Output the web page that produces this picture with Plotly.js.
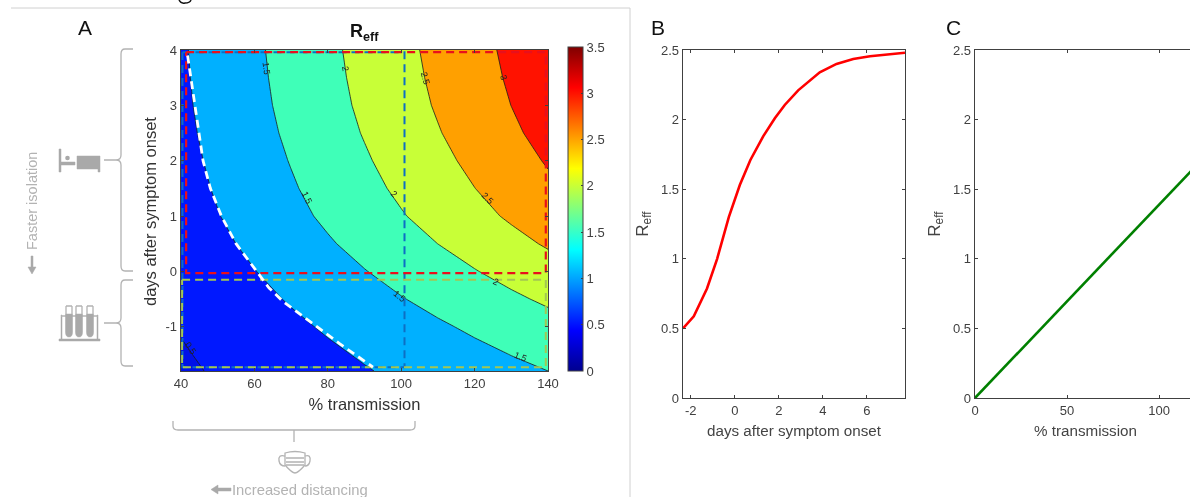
<!DOCTYPE html>
<html><head><meta charset="utf-8">
<script src="https://cdn.plot.ly/plotly-3.0.1.min.js"></script>
<style>html,body{margin:0;padding:0;width:1190px;height:497px;overflow:hidden;background:#fff}
#chart{filter:blur(.35px)}</style>
</head><body><div id="chart"></div>
<script>
const transmission = [40,50,60,70,80,90,100,110,120,130,140];
const daysAfterOnset = [-1.8,-1.5,-1.2,-1,-0.5,0,0.5,1,1.5,2,2.5,3,3.5,4];
const reffGrid = [
 [.432,.54,.648,.756,.864,.972,1.08,1.188,1.296,1.404,1.5],
 [.464,.58,.696,.812,.928,1.044,1.16,1.276,1.392,1.508,1.624],
 [.5,.625,.75,.875,1.0,1.125,1.25,1.375,1.5,1.625,1.75],
 [.524,.655,.786,.917,1.048,1.179,1.31,1.441,1.572,1.703,1.834],
 [.592,.74,.888,1.036,1.184,1.332,1.48,1.628,1.776,1.924,2.072],
 [.66,.825,.99,1.155,1.32,1.485,1.65,1.815,1.98,2.145,2.31],
 [.728,.91,1.092,1.274,1.456,1.638,1.82,2.002,2.184,2.366,2.548],
 [.788,.985,1.182,1.379,1.576,1.773,1.97,2.167,2.364,2.561,2.758],
 [.832,1.04,1.248,1.456,1.664,1.872,2.08,2.288,2.496,2.704,2.912],
 [.868,1.085,1.302,1.519,1.736,1.953,2.17,2.387,2.604,2.821,3.038],
 [.9,1.125,1.35,1.575,1.8,2.025,2.25,2.475,2.7,2.925,3.15],
 [.924,1.155,1.386,1.617,1.848,2.079,2.31,2.541,2.772,3.003,3.234],
 [.94,1.175,1.41,1.645,1.88,2.115,2.35,2.585,2.82,3.055,3.29],
 [.952,1.19,1.428,1.666,1.904,2.142,2.38,2.618,2.856,3.094,3.332]
];
const whiteX = [41.8,43.8,46,48,51,55,60.6,64,67.9,77,83.3,92.3];
const whiteY = [3.9,3,2,1.5,1,.5,0,-.3,-.55,-1,-1.31,-1.73];
const redX = [41.4,139.4,139.4,41.4,41.4];
const redY = [3.96,3.96,-.03,-.03,3.96];
const greenX = [40.3,139.4,139.4,40.3,40.3];
const greenY = [-.15,-.15,-1.73,-1.73,-.15];
const blueX = [40.4,100.9,100.9,40.4,40.4];
const blueY = [3.96,3.96,-1.73,-1.73,3.96];
const labelText = ['1.5','2','2.5','3','1.5','2','2.5','1.5','2','1.5','0.5'];
const labelX = [63.2,84.7,106.5,128,74.3,98,123.4,99.4,125.8,132.6,42.5];
const labelY = [3.67,3.67,3.49,3.5,1.32,1.39,1.32,-.45,-.2,-1.55,-1.39];
const labelAngle = [82,80,75,72,65,45,45,40,25,22,55];
// ---- Panel B data
const bDays = [-2.35,-1.86,-1.26,-.8,-.27,.23,.71,1.29,1.82,2.27,2.88,3.86,4.62,5.38,6.14,7.73];
const bReff = [.5,.587,.787,1.0,1.30,1.53,1.71,1.88,2.01,2.105,2.21,2.34,2.40,2.435,2.455,2.48];
// ---- Panel C data
const cTrans = [0,50,100,120];
const cReff = [0,.695,1.39,1.668];
// ---- Ticks and colours
const aXTicks = [40,60,80,100,120,140];
const aYTicks = [-1,0,1,2,3,4];
const bXTicks = [-2,0,2,4,6];
const cXTicks = [0,50,100];
const reffTicks = [0,.5,1,1.5,2,2.5];
const bandColors = ['#0010e8','#0010e8','#0018ff','#00b0ff','#3fffb8','#c8ff37','#ffa000','#ff1200'];
const jet = [[0,'#00008f'],[.125,'#0000ff'],[.375,'#00ffff'],[.625,'#ffff00'],[.875,'#ff0000'],[1,'#800000']];
const colorbarTicks = [0,.5,1,1.5,2,2.5,3,3.5];

const W = 1250, H = 497;
const FONT = 'Liberation Sans, Arial, sans-serif';
const INK = '#404040', GREY = '#b3b3b3', FRAME = '#404040';
const fx = p => p / W, fy = p => 1 - p / H;
const P = s => s.replace(/(-?\d+\.?\d*) (-?\d+\.?\d*)/g, (m, a, b) => fx(+a) + ' ' + fy(+b));
const axisBase = {showline:true, mirror:'ticks', linecolor:FRAME, linewidth:1.3, ticks:'inside', ticklen:3, tickcolor:FRAME, tickwidth:1,
  showgrid:false, zeroline:false, tickfont:{family:FONT,size:13,color:INK}, layer:'above traces'};
const ticked = vals => ({tickmode:'array',tickvals:vals,ticktext:vals.map(String)});
const dashTrace = (x,y,color,width) => ({type:'scatter',mode:'lines',x,y,xaxis:'x',yaxis:'y',hoverinfo:'skip',showlegend:false,
  line:{color,width,dash:'8px,5px'}});

const traces = [
 {type:'contour',x:transmission,y:daysAfterOnset,z:reffGrid,xaxis:'x',yaxis:'y',showscale:false,hoverinfo:'skip',
  autocontour:false,contours:{start:0,end:3,size:.5,coloring:'fill',showlines:true},
  line:{color:'#1a1a1a',width:.8,smoothing:0},colorscale:bandColors.map((c,i)=>[i/7,c])},
 dashTrace(blueX,blueY,'#0d6fc4',2),
 dashTrace(greenX,greenY,'#a3c653',2),
 dashTrace(redX,redY,'#e8101c',2.2),
 dashTrace(whiteX,whiteY,'#ffffff',2.8),
 {type:'scatter',mode:'markers',x:[40],y:[4],xaxis:'x',yaxis:'y',hoverinfo:'skip',showlegend:false,
  marker:{size:1,opacity:0,color:[0],cmin:0,cmax:3.5,colorscale:jet,showscale:true,
   colorbar:Object.assign({xref:'container',yref:'container',x:fx(568),xanchor:'left',y:fy(371),yanchor:'bottom',
    lenmode:'pixels',len:324,thicknessmode:'pixels',thickness:15,xpad:0,ypad:0,
    outlinecolor:FRAME,outlinewidth:1,borderwidth:0,ticks:'inside',ticklen:2,tickcolor:FRAME,
    tickfont:{family:FONT,size:13,color:INK}},ticked(colorbarTicks))}},
 {type:'scatter',mode:'lines',x:bDays,y:bReff,xaxis:'x2',yaxis:'y2',hoverinfo:'skip',showlegend:false,line:{color:'#ff0000',width:2.6}},
 {type:'scatter',mode:'lines',x:cTrans,y:cReff,xaxis:'x3',yaxis:'y3',hoverinfo:'skip',showlegend:false,line:{color:'#008000',width:2.6}}
];

const paperText = (text,x,y,size,color,extra) => Object.assign({text,xref:'paper',yref:'paper',x:fx(x),y:fy(y),showarrow:false,
  xanchor:'center',yanchor:'middle',font:{family:FONT,size,color}},extra||{});
const annotations = [
 paperText('A',85,27,21,'#111'), paperText('B',658,27,21,'#111'), paperText('C',953,27,21,'#111'),
 paperText('<b>R<sub>eff</sub></b>',364,33,18,'#111'),
 paperText('days after symptom onset',150,212,16.5,'#333',{textangle:-90}),
 paperText('Faster isolation',32,201,14.5,GREY,{textangle:-90}),
 paperText('Increased distancing',299.5,490,14.8,GREY),
 ...labelText.map((t,i)=>({text:t,x:labelX[i],y:labelY[i],xref:'x',yref:'y',showarrow:false,textangle:labelAngle[i],
   borderpad:0,font:{family:FONT,size:9,color:'#222'}}))
];

const greyLine = d => ({type:'path',xref:'paper',yref:'paper',path:P(d),line:{color:GREY,width:1.3},fillcolor:'rgba(0,0,0,0)'});
const greyFill = d => ({type:'path',xref:'paper',yref:'paper',path:P(d),line:{color:'#a9a9a9',width:.5},fillcolor:'#a9a9a9'});
const shapes = [
 {type:'line',xref:'paper',yref:'paper',x0:fx(11),x1:fx(630),y0:fy(8),y1:fy(8),line:{color:'#d0d0d0',width:1}},
 {type:'line',xref:'paper',yref:'paper',x0:fx(630),x1:fx(630),y0:fy(8),y1:fy(497),line:{color:'#d0d0d0',width:1}},
 {type:'path',xref:'paper',yref:'paper',path:P('M179 0 Q181 4 185 3 Q190 3 191 0'),line:{color:'#111',width:1.4},fillcolor:'rgba(0,0,0,0)'},
 // braces
 greyLine('M133 49 L125 49 Q121 49 121 54 L121 155 Q121 160 116 160 L104 160 M116 160 Q121 160 121 165 L121 266 Q121 271 125 271 L133 271'),
 greyLine('M133 280 L125 280 Q121 280 121 285 L121 318 Q121 323 116 323 L104 323 M116 323 Q121 323 121 328 L121 361 Q121 366 125 366 L133 366'),
 greyLine('M173 421 L173 426 Q173 430 178 430 L410 430 Q415 430 415 426 L415 421 M294 430 L294 442'),
 // bed
 greyFill('M59 149 L61 149 L61 162 L75 162 L75 165 L61 165 L61 172 L59 172 Z'),
 greyFill('M77 156 L100 156 L100 172 L98 172 L98 169 L77 169 Z'),
 {type:'circle',xref:'paper',yref:'paper',x0:fx(65.2),x1:fx(69.8),y0:fy(160.3),y1:fy(155.7),fillcolor:'#a9a9a9',line:{width:0}},
 // test tubes
 greyFill('M59 339 L100 339 L100 341 L59 341 Z'),
 greyFill('M61 315 L62 315 L62 339 L61 339 Z'), greyFill('M97 315 L98 315 L98 339 L97 339 Z'),
 greyLine('M61 316 L98 316'),
 ...[69,79,90].flatMap(c=>[
   greyFill(`M${c-3.5} 314 L${c+3.5} 314 L${c+3.5} 332 Q${c+3.5} 337 ${c} 337 Q${c-3.5} 337 ${c-3.5} 332 Z`),
   greyLine(`M${c-3} 306 L${c+3} 306 M${c-3} 306 L${c-3} 314 M${c+3} 306 L${c+3} 314`)]),
 // mask
 greyLine('M285 453 Q295 450 305 453 L305 465 Q298 473 295 473 Q292 473 285 465 Z'),
 greyLine('M285 456 Q278 454 279 461 Q280 466 285 466 M305 456 Q311 454 310 461 Q309 466 305 466'),
 greyLine('M286 458 L304 458 M286 462 L304 462 M286 465 L304 465'),
 // arrows
 greyFill('M31 256 L33 256 L33 267 L36 267 L32 274 L28 267 L31 267 Z'),
 greyFill('M231 488 L218 488 L218 485 L211 489.5 L218 494 L218 491 L231 491 Z')
];

const titleA = {family:FONT,size:16.5,color:'#333'};
const titleBC = {family:FONT,size:15.2,color:'#444'};
const reffTitle = {text:'R<sub>eff</sub>',font:{family:FONT,size:17,color:'#444'},standoff:8};
const layout = {
 width:W,height:H,margin:{l:0,r:0,t:0,b:0,autoexpand:false},paper_bgcolor:'#fff',plot_bgcolor:'#fff',showlegend:false,
 annotations,shapes,
 xaxis:Object.assign({},axisBase,ticked(aXTicks),{domain:[fx(181),fx(548)],range:[40,140],anchor:'y',
   title:{text:'% transmission',font:titleA,standoff:8}}),
 yaxis:Object.assign({},axisBase,ticked(aYTicks),{domain:[fy(371),fy(50)],range:[-1.8,4],anchor:'x'}),
 xaxis2:Object.assign({},axisBase,ticked(bXTicks),{domain:[fx(683),fx(905)],range:[-2.35,7.73],anchor:'y2',
   title:{text:'days after symptom onset',font:titleBC,standoff:8}}),
 yaxis2:Object.assign({},axisBase,ticked(reffTicks),{domain:[fy(398),fy(50)],range:[0,2.5],anchor:'x2',title:reffTitle}),
 xaxis3:Object.assign({},axisBase,ticked(cXTicks),{domain:[fx(975),fx(1196)],range:[0,120],anchor:'y3',
   title:{text:'% transmission',font:titleBC,standoff:8}}),
 yaxis3:Object.assign({},axisBase,ticked(reffTicks),{domain:[fy(398),fy(50)],range:[0,2.5],anchor:'x3',title:reffTitle})
};
Plotly.newPlot('chart',traces,layout,{displayModeBar:false,staticPlot:true});
</script></body></html>
